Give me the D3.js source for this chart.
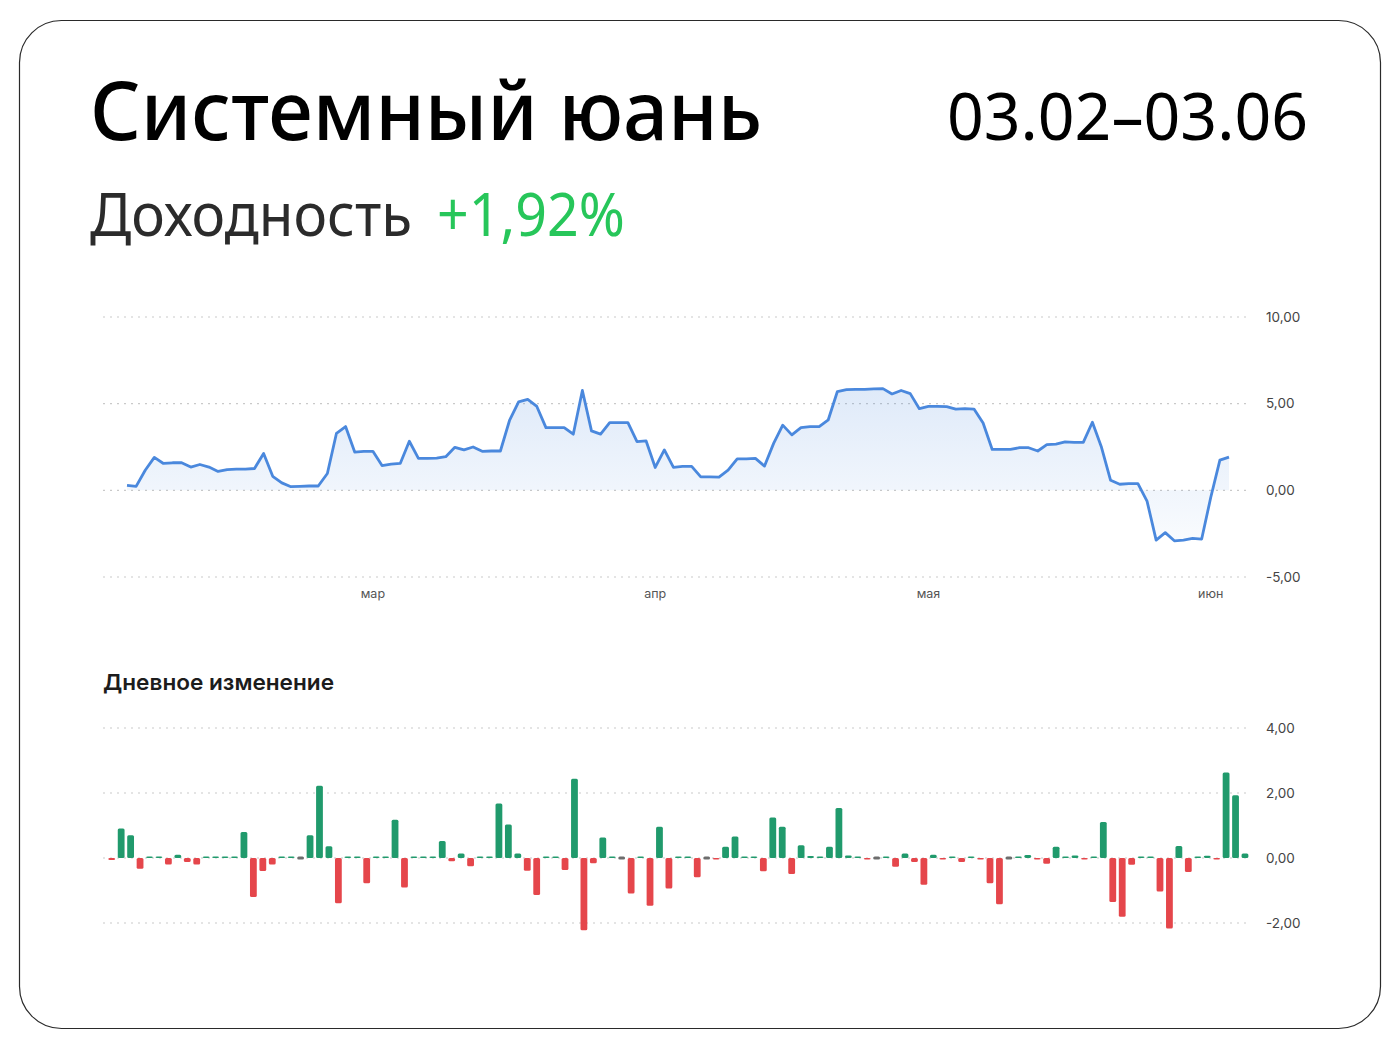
<!DOCTYPE html>
<html>
<head>
<meta charset="utf-8">
<script src="https://cdn.jsdelivr.net/npm/d3@7"></script>
<style>
  html, body { margin: 0; padding: 0; background: #fff; }
  svg { display: block; }
</style>
</head>
<body>
<svg id="chart" width="1400" height="1050"></svg>
<script>
// DATA
var startDate = new Date(2025, 1, 2);   // first point of the line, 02.02
var lineValues = [
  0.29, 0.23, 1.16, 1.90, 1.55, 1.59, 1.59, 1.34, 1.49, 1.34,
  1.09, 1.20, 1.22, 1.22, 1.26, 2.13, 0.81, 0.43, 0.21, 0.23,
  0.25, 0.25, 0.97, 3.29, 3.68, 2.21, 2.25, 2.25, 1.43, 1.51,
  1.55, 2.83, 1.84, 1.84, 1.86, 1.94, 2.48, 2.33, 2.50, 2.25,
  2.27, 2.27, 4.03, 5.10, 5.25, 4.84, 3.62, 3.62, 3.62, 3.24,
  5.76, 3.43, 3.24, 3.91, 3.91, 3.91, 2.81, 2.85, 1.32, 2.33,
  1.32, 1.38, 1.38, 0.78, 0.78, 0.76, 1.16, 1.82, 1.82, 1.84,
  1.40, 2.71, 3.76, 3.20, 3.62, 3.68, 3.68, 4.07, 5.70, 5.81,
  5.83, 5.83, 5.85, 5.87, 5.56, 5.76, 5.58, 4.71, 4.84, 4.84,
  4.83, 4.69, 4.71, 4.69, 3.88, 2.36, 2.36, 2.36, 2.46, 2.46,
  2.27, 2.64, 2.67, 2.79, 2.77, 2.77, 3.93, 2.48, 0.58, 0.35,
  0.39, 0.39, -0.62, -2.87, -2.44, -2.91, -2.87, -2.77, -2.81, -0.40,
  1.74, 1.92
];
// daily change, starts one day after the line
var barValues = [
  -0.06, 0.91, 0.70, -0.33, 0.01, 0.01, -0.20, 0.10, -0.12, -0.20,
  0.05, 0.01, 0.01, 0.01, 0.80, -1.20, -0.40, -0.20, 0.01, 0.01,
  0, 0.70, 2.22, 0.36, -1.39, 0.01, 0.01, -0.78, 0.05, 0.05,
  1.18, -0.91, 0.01, 0.01, 0.05, 0.52, -0.10, 0.14, -0.25, 0.01,
  0.01, 1.68, 1.03, 0.14, -0.39, -1.14, 0.01, 0.01, -0.37, 2.44,
  -2.22, -0.16, 0.63, 0.01, 0, -1.09, 0.05, -1.47, 0.96, -0.94,
  0.03, 0.01, -0.59, 0, -0.01, 0.35, 0.66, 0.01, 0.01, -0.41,
  1.25, 0.96, -0.49, 0.39, 0.06, 0.01, 0.35, 1.54, 0.08, 0.01,
  -0.01, 0, 0.02, -0.27, 0.14, -0.12, -0.82, 0.10, -0.01, 0.01,
  -0.12, 0.01, -0.01, -0.78, -1.42, 0, 0.01, 0.09, -0.01, -0.18,
  0.35, 0.01, 0.08, -0.02, 0.01, 1.11, -1.35, -1.81, -0.21, 0.01,
  0.01, -1.03, -2.17, 0.37, -0.43, 0.01, 0.07, -0.04, 2.63, 1.93,
  0.14
];
var monthDates = [new Date(2025, 2, 1), new Date(2025, 3, 1), new Date(2025, 4, 1), new Date(2025, 5, 1)];
var monthLabels = ["мар", "апр", "мая", "июн"];
var lineTicks = [10, 5, 0, -5];
var barTicks = [4, 2, 0, -2];

var fundName = "Системный юань";
var periodText = "03.02–03.06";
var yieldLabel = "Доходность";
var yieldText = "+1,92%";
var barTitle = "Дневное изменение";

// LAYOUT
var gridLeft = 103, gridRight = 1250, tickX = 1266;
var lineColor = "#4a88dd";
var upColor = "#209a6c", downColor = "#e5464b", flatColor = "#6d6d6d";
var fmt = function(v) { return d3.format(".2f")(v).replace(".", ",").replace("\u2212", "-"); };

var svg = d3.select("#chart");

svg.append("rect")
  .attr("x", 19.5).attr("y", 20.5)
  .attr("width", 1361).attr("height", 1008)
  .attr("rx", 42).attr("ry", 42)
  .attr("fill", "#fff")
  .attr("stroke", "#2a2a2a")
  .attr("stroke-width", 1.2);

/* header */
var headFont = "'Noto Sans', 'DejaVu Sans', sans-serif";
svg.append("text")
  .attr("x", 90).attr("y", 140)
  .attr("font-family", headFont).attr("font-size", 81).attr("font-weight", 500)
  .attr("fill", "#000")
  .attr("textLength", 672).attr("lengthAdjust", "spacingAndGlyphs")
  .text(fundName);

svg.append("text")
  .attr("x", 947).attr("y", 140)
  .attr("font-family", headFont).attr("font-size", 66).attr("font-weight", 400)
  .attr("fill", "#000")
  .attr("textLength", 361).attr("lengthAdjust", "spacingAndGlyphs")
  .text(periodText);

svg.append("text")
  .attr("x", 90).attr("y", 236)
  .attr("font-family", headFont).attr("font-size", 60).attr("font-weight", 400)
  .attr("fill", "#2b2b2b")
  .attr("textLength", 322).attr("lengthAdjust", "spacingAndGlyphs")
  .text(yieldLabel);

svg.append("text")
  .attr("x", 437).attr("y", 236)
  .attr("font-family", headFont).attr("font-size", 60).attr("font-weight", 400)
  .attr("fill", "#27c65a")
  .attr("textLength", 188).attr("lengthAdjust", "spacingAndGlyphs")
  .text(yieldText);

/* line chart */
var dates = lineValues.map(function(d, i) { return d3.timeDay.offset(startDate, i); });
var x = d3.scaleTime().domain([dates[0], dates[dates.length - 1]]).range([127, 1229]);
var y = d3.scaleLinear().domain([-5, 10]).range([577, 317]);

var g1 = svg.append("g");

g1.selectAll(".grid")
  .data(lineTicks)
  .enter().append("line")
  .attr("x1", gridLeft).attr("x2", gridRight)
  .attr("y1", function(d) { return y(d); }).attr("y2", function(d) { return y(d); })
  .attr("stroke", "#c9c9c9").attr("stroke-width", 1.2)
  .attr("stroke-dasharray", "2,5");

g1.selectAll(".tick")
  .data(lineTicks)
  .enter().append("text")
  .attr("x", tickX).attr("y", function(d) { return y(d); })
  .attr("dy", "0.35em")
  .attr("font-family", "Inter, 'Noto Sans', sans-serif").attr("font-size", 13.5)
  .attr("fill", "#444")
  .text(fmt);

g1.selectAll(".month")
  .data(monthDates)
  .enter().append("text")
  .attr("x", function(d) { return x(d); }).attr("y", 598)
  .attr("text-anchor", "middle")
  .attr("font-family", "Inter, 'Noto Sans', sans-serif").attr("font-size", 12.5)
  .attr("fill", "#555")
  .text(function(d, i) { return monthLabels[i]; });

var grad = svg.append("defs").append("linearGradient")
  .attr("id", "areaFill")
  .attr("gradientUnits", "userSpaceOnUse")
  .attr("x1", 0).attr("x2", 0)
  .attr("y1", y(6)).attr("y2", y(-3));
grad.append("stop").attr("offset", "0%").attr("stop-color", lineColor).attr("stop-opacity", 0.18);
grad.append("stop").attr("offset", "100%").attr("stop-color", lineColor).attr("stop-opacity", 0.03);

g1.append("path")
  .datum(lineValues)
  .attr("fill", "url(#areaFill)")
  .attr("d", d3.area()
    .x(function(d, i) { return x(dates[i]); })
    .y0(y(0))
    .y1(function(d) { return y(d); }));

g1.append("path")
  .datum(lineValues)
  .attr("fill", "none")
  .attr("stroke", lineColor)
  .attr("stroke-width", 2.8)
  .attr("stroke-linejoin", "round")
  .attr("d", d3.line()
    .x(function(d, i) { return x(dates[i]); })
    .y(function(d) { return y(d); }));

/* daily change bars */
svg.append("text")
  .attr("x", 103).attr("y", 690)
  .attr("font-family", "Inter, 'Noto Sans', sans-serif").attr("font-size", 22).attr("font-weight", 600)
  .attr("fill", "#1c1c1c")
  .attr("textLength", 231).attr("lengthAdjust", "spacingAndGlyphs")
  .text(barTitle);

var barDates = barValues.map(function(d, i) { return d3.timeDay.offset(startDate, i + 1); });
var xb = d3.scaleBand().domain(barDates).range([107, 1249.7]).paddingInner(0.28).paddingOuter(0.14);
var yb = d3.scaleLinear().domain([-2, 4]).range([923, 728]);

var g2 = svg.append("g");

g2.selectAll(".grid")
  .data(barTicks)
  .enter().append("line")
  .attr("x1", gridLeft).attr("x2", gridRight)
  .attr("y1", function(d) { return yb(d); }).attr("y2", function(d) { return yb(d); })
  .attr("stroke", "#c9c9c9").attr("stroke-width", 1.2)
  .attr("stroke-dasharray", "2,5");

g2.selectAll(".tick")
  .data(barTicks)
  .enter().append("text")
  .attr("x", tickX).attr("y", function(d) { return yb(d); })
  .attr("dy", "0.35em")
  .attr("font-family", "Inter, 'Noto Sans', sans-serif").attr("font-size", 13.5)
  .attr("fill", "#444")
  .text(fmt);

g2.selectAll(".bar")
  .data(barValues)
  .enter().append("rect")
  .attr("x", function(d, i) { return xb(barDates[i]); })
  .attr("width", xb.bandwidth())
  .attr("y", function(d) {
    if (d === 0) return yb(0) - 1.5;
    var h = Math.max(1.6, Math.abs(yb(d) - yb(0)));
    return d > 0 ? yb(0) - h : yb(0);
  })
  .attr("height", function(d) {
    if (d === 0) return 3;
    return Math.max(1.6, Math.abs(yb(d) - yb(0)));
  })
  .attr("rx", 1.5)
  .attr("fill", function(d) { return d > 0 ? upColor : (d < 0 ? downColor : flatColor); });
</script>
</body>
</html>
